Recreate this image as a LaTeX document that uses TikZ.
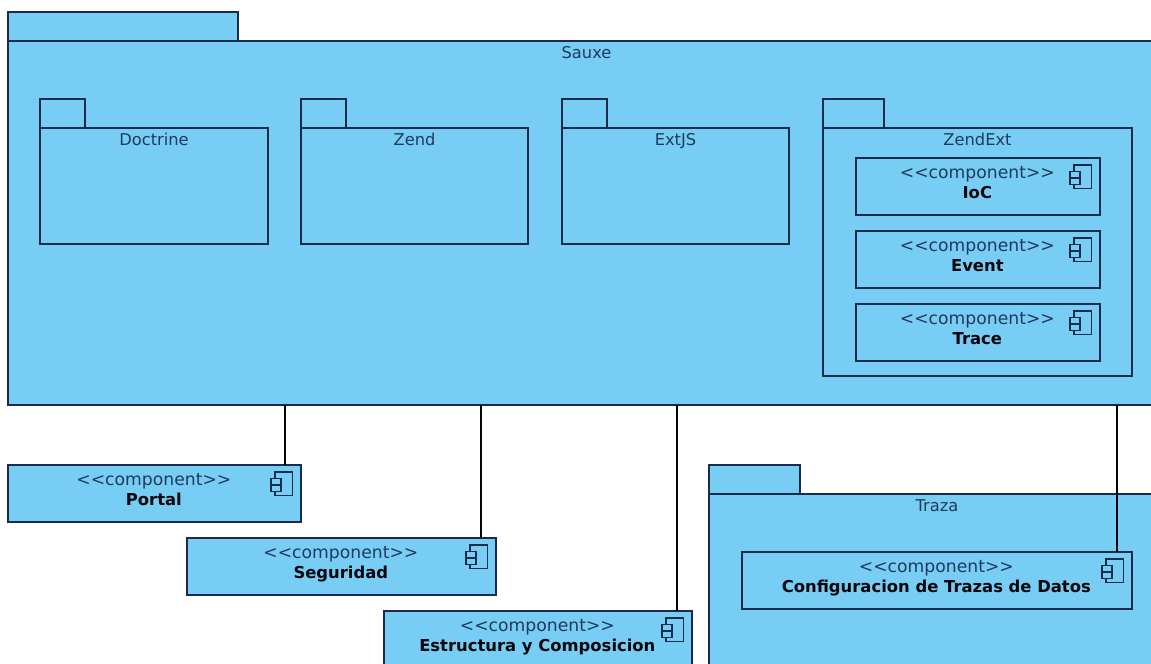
\documentclass[tikz,border=0pt]{standalone}
\usepackage{fontspec}
\setmainfont{DejaVu Sans}
\definecolor{umlfill}{HTML}{77CDF3}
\definecolor{umlline}{HTML}{1B2B4B}
\definecolor{umltext}{HTML}{1F3A5F}
\tikzset{
  boxshape/.style={draw=umlline,fill=umlfill,line width=0.95pt,rectangle,inner sep=0pt,outer sep=0pt,anchor=north west},
  pkgtitle/.style={text=umltext,font=\fontsize{12.2}{14}\selectfont,inner sep=0pt,text height=9pt,text depth=0pt},
  stereo/.style={text=umltext,font=\fontsize{12.9}{14}\selectfont,inner sep=0pt,text height=9pt,text depth=0pt},
  compname/.style={text=black!85!umlline,font=\fontsize{12.3}{14}\selectfont\bfseries,inner sep=0pt,text height=9pt,text depth=0pt},
  iconline/.style={draw=umlline,line width=0.9pt,fill=umlfill},
  linkline/.style={draw=black!85!umlline,line width=0.95pt}
}
% box: name, left, top, right, bottom (pixels)
\newcommand{\pxbox}[5]{%
  \pgfmathsetmacro{\bw}{(#4-#2)*0.75}\pgfmathsetmacro{\bh}{(#5-#3)*0.75}%
  \node[boxshape,minimum width=\bw pt,minimum height=\bh pt] (#1) at (#2,#3) {};}
% package: name, left, tabright, tabtop, top, right, bottom, title
\newcommand{\pkg}[8]{%
  \pxbox{#1tab}{#2}{#4}{#3}{#5}%
  \pxbox{#1}{#2}{#5}{#6}{#7}%
  \node[pkgtitle,anchor=center] (#1title) at ([yshift=-8.4pt]#1.north) {#8};}
% component: name, left, top, right, bottom, label
\newcommand{\comp}[6]{%
  \pxbox{#1}{#2}{#3}{#4}{#5}%
  \node[stereo,anchor=center] (#1st) at ([xshift=-0.5pt,yshift=-10.5pt]#1.north) {<{}<component>{}>};%
  \node[compname,anchor=center] (#1nm) at ([xshift=-0.5pt,yshift=-26.2pt]#1.north) {#6};%
  \draw[iconline] ([xshift=-19.5pt,yshift=-5.2pt]#1.north east) rectangle ([xshift=-6.2pt,yshift=-23pt]#1.north east);%
  \draw[iconline] ([xshift=-22.5pt,yshift=-10.2pt]#1.north east) rectangle ([xshift=-15pt,yshift=-15pt]#1.north east);%
  \draw[iconline] ([xshift=-22.5pt,yshift=-15pt]#1.north east) rectangle ([xshift=-15pt,yshift=-19.8pt]#1.north east);}
\begin{document}
\begin{tikzpicture}[x=0.75pt,y=-0.75pt]
\clip (0,0) rectangle (1151,663);
\useasboundingbox (0,0) rectangle (1151,663);
\pkg{sauxe}{8}{238}{12}{41}{1165}{405}{Sauxe}
\pkg{doctrine}{40}{85}{99}{128}{268}{244}{Doctrine}
\pkg{zend}{301}{346}{99}{128}{528}{244}{Zend}
\pkg{extjs}{562}{607}{99}{128}{789}{244}{ExtJS}
\pkg{zendext}{823}{884}{99}{128}{1132}{376}{ZendExt}
\comp{ioc}{856}{158}{1100}{215}{IoC}
\comp{event}{856}{231}{1100}{288}{Event}
\comp{trace}{856}{304}{1100}{361}{Trace}
\comp{portal}{8}{465}{301}{522}{Portal}
\comp{seguridad}{187}{538}{496}{595}{Seguridad}
\comp{estructura}{384}{611}{692}{680}{Estructura y Composicion}
\pkg{traza}{709}{800}{465}{494}{1165}{680}{Traza}
\comp{config}{742}{552}{1132}{609}{Configuracion de Trazas de Datos}
\coordinate (l1) at (285,0);
\coordinate (l2) at (481,0);
\coordinate (l3) at (677,0);
\coordinate (l4) at (1117,0);
\draw[linkline] (sauxe.south -| l1) -- (portal.north -| l1);
\draw[linkline] (sauxe.south -| l2) -- (seguridad.north -| l2);
\draw[linkline] (sauxe.south -| l3) -- (estructura.north -| l3);
\draw[linkline] (sauxe.south -| l4) -- (config.north -| l4);
\end{tikzpicture}
\end{document}
